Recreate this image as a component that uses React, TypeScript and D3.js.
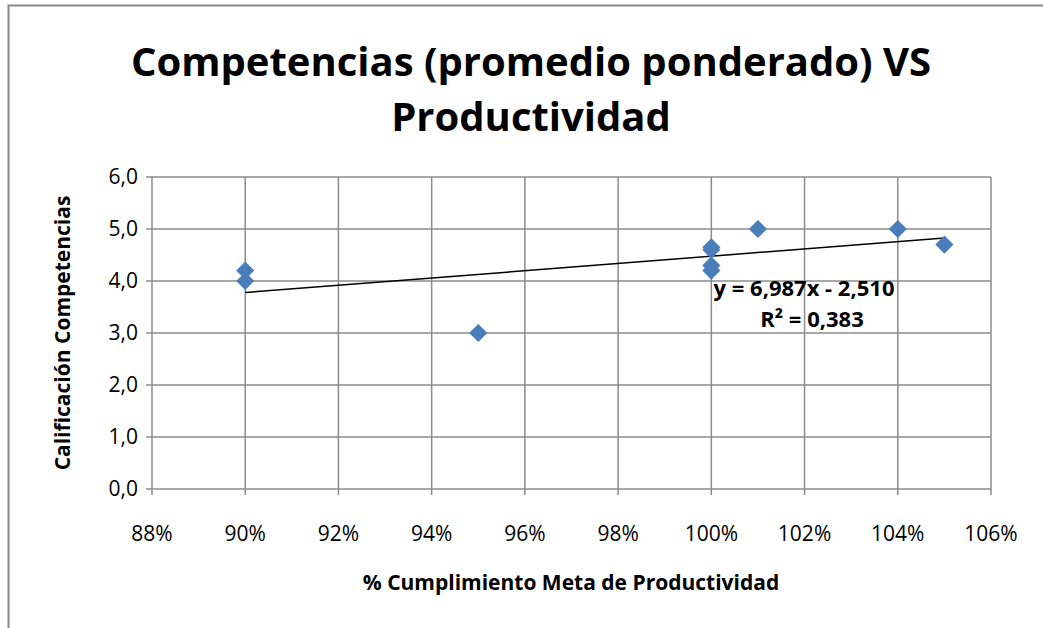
import React from 'react';
import * as d3 from 'd3';

// Productivity (%) vs competency score
const productividad = [0.90, 0.90, 0.95, 1.00, 1.00, 1.00, 1.00, 1.01, 1.04, 1.05];
const competencias = [4.2, 4.0, 3.0, 4.65, 4.6, 4.3, 4.2, 5.0, 5.0, 4.7];

const xTicks = [0.88, 0.90, 0.92, 0.94, 0.96, 0.98, 1.00, 1.02, 1.04, 1.06];
const yTicks = [0, 1, 2, 3, 4, 5, 6];

// trendline shown in the chart
const trendSlope = 6.987;
const trendIntercept = -2.51;
const trendLabel = ['y = 6,987x - 2,510', 'R² = 0,383'];

const titleLines = ['Competencias (promedio ponderado) VS', 'Productividad'];

const W = 1043;
const H = 628;
const FONT = "'Open Sans', 'Noto Sans', sans-serif";

export default function App() {
  const x = d3.scaleLinear().domain([0.88, 1.06]).range([152, 991]);
  const y = d3.scaleLinear().domain([0, 6]).range([489, 177]);

  const fmtY = (v: number) => v.toFixed(1).replace('.', ',');
  const fmtX = (v: number) => `${Math.round(v * 100)}%`;

  const xMin = d3.min(productividad) as number;
  const xMax = d3.max(productividad) as number;
  const trendLine = d3.line<number>()
    .x(d => x(d))
    .y(d => y(trendSlope * d + trendIntercept));

  const diamond = d3.symbol().type(d3.symbolDiamond2).size(210)();

  return (
    <svg width={W} height={H} style={{ position: 'absolute', left: 0, top: 0, background: '#fff' }}>
      <rect x={8.5} y={5.5} width={1060} height={640} fill="#fff" stroke="#888" strokeWidth={2} />

      {titleLines.map((t, i) => (
        <text key={t} x={531} y={76 + i * 55} textAnchor="middle" fontFamily={FONT}
          fontWeight="bold" fontSize={40} fill="#000">{t}</text>
      ))}

      {/* gridlines */}
      {yTicks.map(t => (
        <line key={'gy' + t} x1={x(0.88)} x2={x(1.06)} y1={y(t)} y2={y(t)} stroke="#8c8c8c" strokeWidth={1.5} />
      ))}
      {xTicks.map(t => (
        <line key={'gx' + t} x1={x(t)} x2={x(t)} y1={y(0)} y2={y(6)} stroke="#8c8c8c" strokeWidth={1.5} />
      ))}
      {/* tick marks */}
      {yTicks.map(t => (
        <line key={'ty' + t} x1={x(0.88) - 6} x2={x(0.88)} y1={y(t)} y2={y(t)} stroke="#8c8c8c" strokeWidth={1.5} />
      ))}
      {xTicks.map(t => (
        <line key={'tx' + t} x1={x(t)} x2={x(t)} y1={y(0)} y2={y(0) + 6} stroke="#8c8c8c" strokeWidth={1.5} />
      ))}

      {yTicks.map(t => (
        <text key={'ly' + t} x={138} y={y(t) + 7} textAnchor="end" fontFamily={FONT} fontSize={21} fill="#000">{fmtY(t)}</text>
      ))}
      {xTicks.map(t => (
        <text key={'lx' + t} x={x(t)} y={541} textAnchor="middle" fontFamily={FONT} fontSize={21} fill="#000">{fmtX(t)}</text>
      ))}

      <path d={trendLine([xMin, xMax]) as string} stroke="#000" strokeWidth={1.5} fill="none" />

      {productividad.map((p, i) => (
        <path key={'p' + i} d={diamond as string} transform={`translate(${x(p)},${y(competencias[i])})`} fill="#4a7ebb" />
      ))}

      {trendLabel.map((t, i) => (
        <text key={t} x={i === 0 ? 804 : 812} y={296 + i * 31} textAnchor="middle" fontFamily={FONT}
          fontWeight="bold" fontSize={22} fill="#000">{t}</text>
      ))}

      <text transform={`translate(70,333) rotate(-90)`} textAnchor="middle" fontFamily={FONT}
        fontWeight="bold" fontSize={21} fill="#000">Calificación Competencias</text>
      <text x={571} y={590} textAnchor="middle" fontFamily={FONT}
        fontWeight="bold" fontSize={21} fill="#000">% Cumplimiento Meta de Productividad</text>
    </svg>
  );
}
